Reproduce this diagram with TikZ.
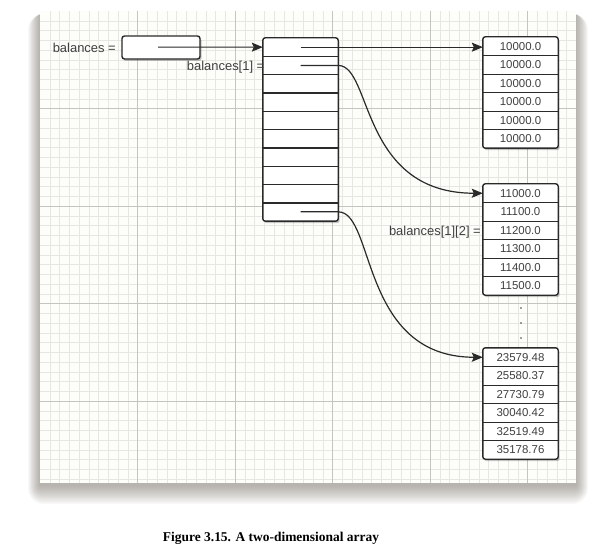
\documentclass[tikz,border=0pt]{standalone}
\usepackage{fontspec}
\setmainfont{Liberation Serif}
\newfontfamily\diagfont{Liberation Sans}
\usetikzlibrary{arrows.meta}
\pgfdeclarelayer{paper}
\pgfdeclarelayer{bg}
\pgfsetlayers{paper,bg,main}
\definecolor{gridminor}{HTML}{E6E6E2}
\definecolor{gridmajor}{HTML}{C4C4C0}
\definecolor{papercol}{HTML}{FDFDFA}
\definecolor{shadowc}{HTML}{4A4234}
\definecolor{boxline}{HTML}{2A2A2A}
\definecolor{txt}{HTML}{404040}
\tikzset{
  minorline/.style={draw=gridminor, line width=0.45bp},
  majorline/.style={draw=gridmajor, line width=0.8bp},
  arrbox/.style={draw=boxline, line width=1.4bp, rounded corners=2.5bp, fill=white},
  boxshadow/.style={fill=black, opacity=0.22, rounded corners=2.5bp},
  cellsep/.style={draw=boxline, line width=1.3bp},
  cell/.style={minimum width=75bp, minimum height=18.5bp, inner sep=0pt,
    font=\diagfont\fontsize{11.5}{12}\selectfont, text=txt},
  bigcell/.style={minimum width=75bp, minimum height=18.3bp, inner sep=0pt},
  lbl/.style={font=\diagfont\fontsize{13}{14}\selectfont, text=txt, inner sep=0pt, anchor=east},
  ptr/.style={draw=boxline, line width=1.2bp, -{Stealth[length=11bp,width=9bp,inset=2bp]}},
}
\begin{document}
\begin{tikzpicture}[x=1bp,y=-1bp]
\useasboundingbox (0,0) rectangle (597,555);
% paper with shadow and grid
\begin{pgfonlayer}{paper}
  \foreach \k in {1,...,16}
    \fill[shadowc, opacity=0.032, rounded corners=\k bp]
      ({40-0.75*\k},14) rectangle ({576+0.75*\k},{485+1.2*\k});
  \fill[papercol] (40,11) rectangle (576,483);
  \foreach \i in {1,...,54}
    \draw[minorline] ({40+9.75*\i},11) -- ({40+9.75*\i},483);
  \foreach \j in {1,...,48}
    \draw[minorline] (40,{11+9.75*\j}) -- (576,{11+9.75*\j});
  \foreach \i in {1,...,5}
    \draw[majorline] ({40+97.5*\i},11) -- ({40+97.5*\i},483);
  \foreach \j in {1,...,4}
    \draw[majorline] (40,{11+97.5*\j}) -- (576,{11+97.5*\j});
\end{pgfonlayer}

% balances box
\fill[boxshadow] (123.5,38) rectangle (201.5,61);
\node[arrbox, minimum width=78bp, minimum height=23bp] (bal) at (161,47.5) {};
\node[lbl] (lb0) at (116,48) {balances =};

% big array cells
\foreach \i in {1,...,10}
  \node[bigcell] (a\i) at (300.5,{38+18.3*\i-9.15}) {};
% right arrays
\foreach \v [count=\i] in {10000.0,10000.0,10000.0,10000.0,10000.0,10000.0}
  \node[cell] (A\i) at (520.5,{37+18.5*\i-9.25}) {\v};
\foreach \v [count=\i] in {11000.0,11100.0,11200.0,11300.0,11400.0,11500.0}
  \node[cell] (B\i) at (520.5,{184+18.5*\i-9.25}) {\v};
\foreach \v [count=\i] in {23579.48,25580.37,27730.79,30040.42,32519.49,35178.76}
  \node[cell] (C\i) at (520.5,{348+18.5*\i-9.25}) {\v};

\begin{pgfonlayer}{bg}
  \fill[boxshadow] ([xshift=1.5bp,yshift=-2bp]a1.north west) rectangle ([xshift=1.5bp,yshift=-2bp]a10.south east);
  \fill[boxshadow] ([xshift=1.5bp,yshift=-2bp]A1.north west) rectangle ([xshift=1.5bp,yshift=-2bp]A6.south east);
  \fill[boxshadow] ([xshift=1.5bp,yshift=-2bp]B1.north west) rectangle ([xshift=1.5bp,yshift=-2bp]B6.south east);
  \fill[boxshadow] ([xshift=1.5bp,yshift=-2bp]C1.north west) rectangle ([xshift=1.5bp,yshift=-2bp]C6.south east);
  \draw[arrbox] (a1.north west) rectangle (a10.south east);
  \draw[arrbox] (A1.north west) rectangle (A6.south east);
  \draw[arrbox] (B1.north west) rectangle (B6.south east);
  \draw[arrbox] (C1.north west) rectangle (C6.south east);
\end{pgfonlayer}
\foreach \i in {1,...,9}
  \draw[cellsep] (a\i.south west) -- (a\i.south east);
\foreach \i in {1,...,5} {
  \draw[cellsep] (A\i.south west) -- (A\i.south east);
  \draw[cellsep] (B\i.south west) -- (B\i.south east);
  \draw[cellsep] (C\i.south west) -- (C\i.south east);
}

% labels
\node[lbl] (lb1) at (264.5,67) {balances[1] =};
\node[lbl] (lb2) at (481,232) {balances[1][2] =};

% dots
\foreach \y in {308,323,338}
  \fill[txt] (521,\y) circle (0.9bp);

% pointers
\coordinate (s0) at (158,47.15);
\draw[ptr] (s0) -- (a1.west);
\draw[ptr] (a1.center) -- (a1.center -| A1.west);
\draw[ptr] (a2.center) -- (a2.east) .. controls +(34,0) and +(-123,0) .. (B1.west);
\draw[ptr] (a10.center) -- (a10.east) .. controls +(37,0) and +(-123,0) .. (C1.west);

% caption
\node[font=\bfseries\fontsize{13.5}{15}\selectfont] (cap) at (271,538) {Figure 3.15. A two-dimensional array};
\end{tikzpicture}
\end{document}
